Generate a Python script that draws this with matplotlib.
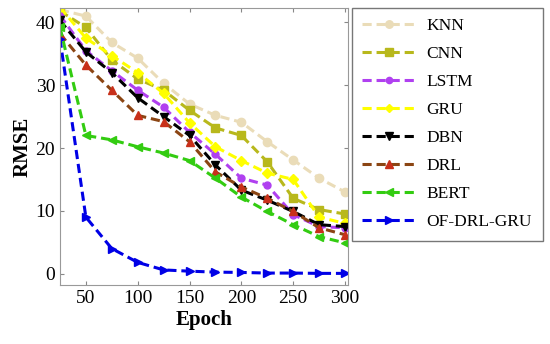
import matplotlib
matplotlib.use('Agg')
import matplotlib.pyplot as plt

plt.rcParams['font.family'] = ['Liberation Serif', 'DejaVu Serif']

epochs = [25, 50, 75, 100, 125, 150, 175, 200, 225, 250, 275, 300]

knn = [42.0, 41.0, 36.8, 34.3, 30.3, 27.0, 25.2, 24.1, 21.0, 18.1, 15.2, 13.0]
cnn = [41.8, 39.2, 34.0, 31.0, 29.2, 26.0, 23.2, 22.0, 17.8, 12.0, 10.2, 9.5]
lstm = [41.1, 35.5, 32.3, 29.2, 26.5, 22.5, 19.0, 15.2, 14.1, 9.4, 7.5, 7.3]
gru = [42.4, 37.5, 34.7, 32.0, 28.7, 24.0, 20.2, 18.0, 16.0, 15.0, 9.0, 8.0]
dbn = [40.3, 35.3, 32.0, 28.0, 25.0, 22.0, 17.3, 13.3, 11.7, 9.9, 7.8, 7.5]
drl = [38.2, 33.2, 29.2, 25.2, 24.2, 21.0, 16.2, 13.8, 12.0, 9.9, 7.3, 6.2]
bert = [39.2, 22.0, 21.3, 20.2, 19.2, 18.0, 15.2, 12.2, 9.9, 7.8, 5.9, 4.9]
ofdrlgru = [37.4, 9.0, 4.0, 1.8, 0.6, 0.4, 0.25, 0.2, 0.1, 0.1, 0.05, 0.05]

series = [
    ('KNN', knn, '#eadcb8', '#eadcb8', 'o'),
    ('CNN', cnn, '#b8b81c', '#b8b81c', 's'),
    ('LSTM', lstm, '#b040f0', '#b040f0', 'o'),
    ('GRU', gru, '#ffff00', '#ffff00', 'D'),
    ('DBN', dbn, '#000000', '#000000', 'v'),
    ('DRL', drl, '#8b4513', '#c8301a', '^'),
    ('BERT', bert, '#33cc11', '#33cc11', '<'),
    ('OF-DRL-GRU', ofdrlgru, '#0000e6', '#0000e6', '>'),
]

fig = plt.figure(figsize=(5.5, 3.44), dpi=100)
ax = fig.add_axes([0.109, 0.1715, 0.524, 0.8055])

for name, vals, lc, mc, mk in series:
    ms = 5 if name in ('LSTM', 'GRU') else 6
    ax.plot(epochs, vals, linestyle='--', color=lc, lw=2.2, marker=mk,
            markersize=ms, markerfacecolor=mc, markeredgecolor=mc,
            dashes=(3, 1.6), label=name)

ax.set_xlim(25, 303)
ax.set_ylim(-1.8, 42.3)
ax.set_xticks([50, 100, 150, 200, 250, 300])
ax.set_yticks([0, 10, 20, 30, 40])
ax.tick_params(direction='in', top=True, right=True, labelsize=14,
               color='#888888', length=3)
for s in ax.spines.values():
    s.set_color('#999999')
ax.set_xlabel('Epoch', fontsize=15, fontweight='bold', labelpad=2)
ax.set_ylabel('RMSE', fontsize=15, fontweight='bold', labelpad=2)

leg = fig.legend(loc='upper left', bbox_to_anchor=(0.64, 0.977),
                 borderaxespad=0, fontsize=12.5, handlelength=3.1,
                 labelspacing=0.68, borderpad=0.6, handletextpad=0.6,
                 markerscale=0.9, fancybox=False, framealpha=1)
leg.get_frame().set_edgecolor('#777777')

plt.savefig('out.png')
